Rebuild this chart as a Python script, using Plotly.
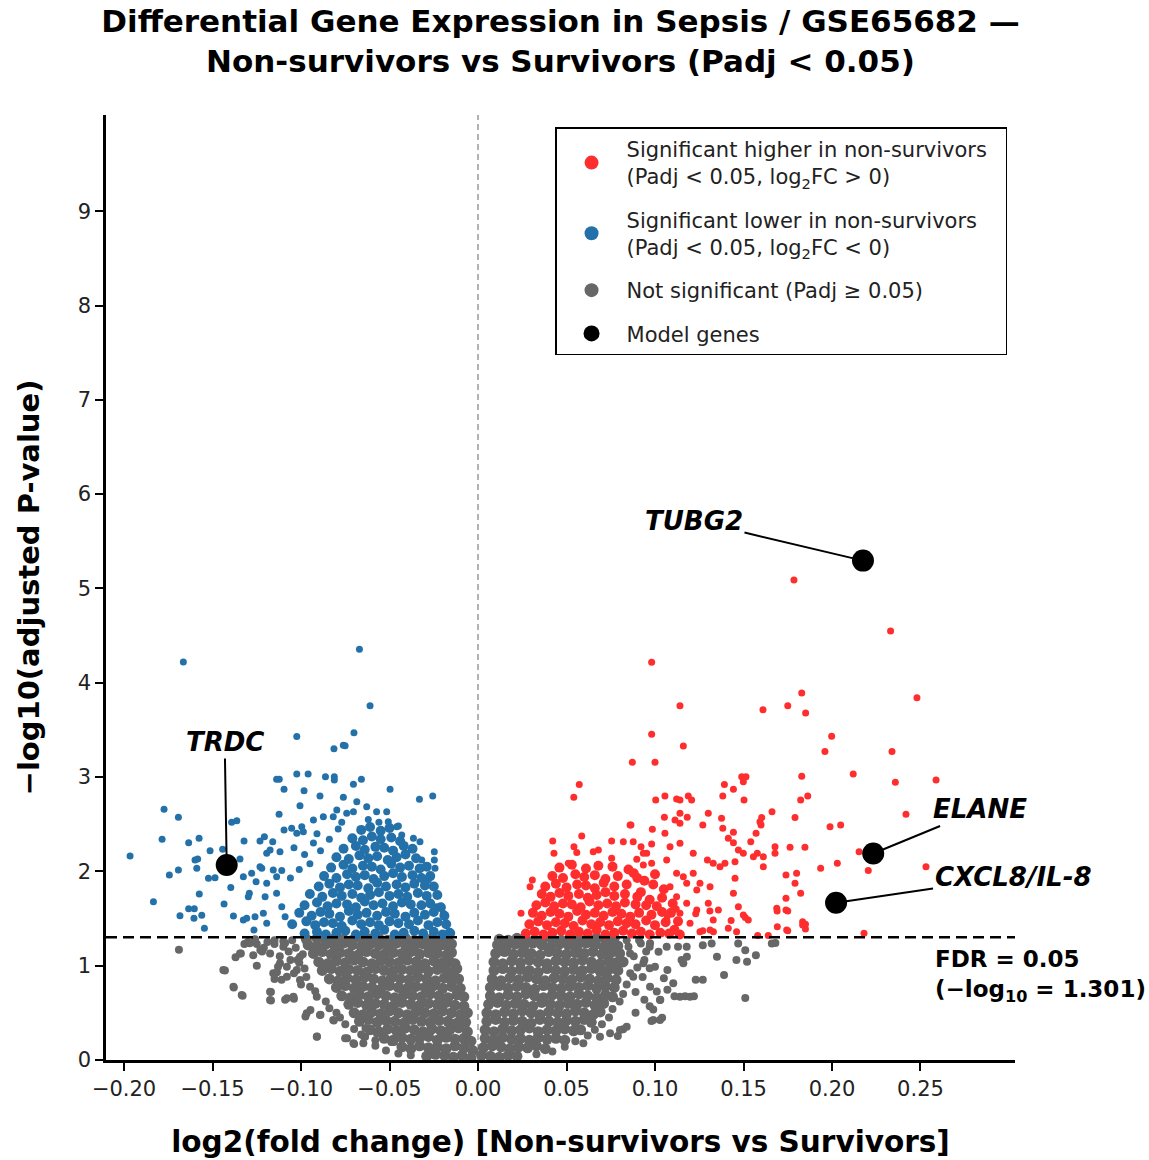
import plotly.graph_objects as go

# ---------------- data ----------------
FDR_NEGLOG10 = 1.301

gene_names = ["TUBG2", "ELANE", "CXCL8/IL-8", "TRDC"]
gene_lfc = [0.2175, 0.2233, 0.2023, -0.1420]
gene_nlp = [5.295, 2.19, 1.668, 2.068]

# significant, higher in non-survivors (red) - sparse points
up_scatter = [
    (0.1785, 5.09), (0.2331, 4.549), (0.0981, 4.217), (0.1141, 3.757), (0.248, 3.842), (0.1829, 3.892),
    (0.175, 3.757), (0.161, 3.715), (0.1851, 3.68), (0.1998, 3.433), (0.196, 3.27), (0.2339, 3.27),
    (0.0981, 3.454), (0.116, 3.33), (0.0872, 3.157), (0.100, 3.157), (0.212, 3.033), (0.1829, 3.009),
    (0.2588, 2.969), (0.2358, 2.945), (0.2418, 2.605), (0.0572, 2.92), (0.0541, 2.786), (0.149, 3.004),
    (0.1514, 3.004), (0.1499, 2.951), (0.1392, 2.92), (0.1443, 2.871), (0.1383, 2.80), (0.1503, 2.757),
    (0.1823, 2.757), (0.1863, 2.80), (0.1004, 2.757), (0.1056, 2.80), (0.1122, 2.768), (0.1141, 2.757),
    (0.1188, 2.80), (0.1207, 2.757), (0.1053, 2.574), (0.1113, 2.545), (0.1141, 2.616), (0.1182, 2.574),
    (0.1301, 2.616), (0.127, 2.492), (0.0864, 2.492), (0.0985, 2.446), (0.0921, 2.262), (0.0953, 2.192),
    (0.0897, 2.128), (0.0934, 2.068), (0.0981, 2.086), (0.1661, 2.633), (0.1603, 2.57), (0.1599, 2.492),
    (0.1791, 2.57), (0.1383, 2.457), (0.1443, 2.415), (0.1414, 2.351), (0.1443, 2.304), (0.1471, 2.227),
    (0.1452, 2.103), (0.1571, 2.404), (0.1541, 2.315), (0.1578, 2.192), (0.1612, 2.156), (0.1612, 2.05),
    (0.1678, 2.262), (0.1678, 2.192), (0.1763, 2.255), (0.1847, 2.255), (0.1989, 2.474), (0.2049, 2.492),
    (0.2153, 2.209), (0.2205, 2.008), (0.203, 2.086), (0.1936, 2.033), (0.2531, 2.05), (0.174, 1.962),
    (0.18, 1.98), (0.1791, 1.874), (0.1823, 1.768), (0.174, 1.715), (0.1688, 1.609), (0.174, 1.591),
    (0.1834, 1.467), (0.1834, 1.432), (0.1691, 1.414), (0.1744, 1.379), (0.2181, 1.344), (0.1452, 1.927),
    (0.1443, 1.768), (0.1471, 1.626), (0.1499, 1.538), (0.1527, 1.485), (0.1414, 1.397), (0.1461, 1.361),
    (0.1254, 1.361), (0.1329, 1.485), (0.1301, 1.661), (0.1358, 1.591), (0.1311, 1.838), (0.1236, 1.803),
    (0.1179, 1.874), (0.1367, 2.05), (0.1395, 2.086), (0.1329, 2.086), (0.1296, 2.121), (0.1499, 2.192),
    (0.1556, 2.156), (0.1593, 2.527), (0.1376, 2.563), (0.1141, 2.51), (0.1056, 2.404), (0.1085, 2.262),
    (0.1141, 2.298), (0.1216, 2.192), (0.1066, 2.121), (0.1122, 1.98), (0.116, 1.944), (0.1216, 1.98),
    (0.1254, 1.874), (0.1085, 1.838), (0.1122, 1.732), (0.1179, 1.661), (0.1236, 1.591), (0.1141, 1.556),
    (0.1066, 1.485), (0.1198, 1.45), (0.1311, 1.379), (0.1103, 1.379), (0.0243, 1.556), (0.0307, 1.909),
    (0.0294, 1.838), (0.0422, 2.322), (0.0429, 2.192), (0.0542, 2.262), (0.0558, 2.199), (0.0586, 2.375),
    (0.0755, 2.322), (0.0821, 2.315), (0.0877, 2.315), (0.0859, 2.492), (0.0651, 2.209), (0.068, 2.227),
    (0.051, 2.086), (0.0454, 2.033), (0.0755, 2.139), (0.0934, 2.192), (0.0981, 2.29),
    (0.158, 1.32), (0.164, 1.32), (0.169, 1.58), (0.175, 1.58), (0.175, 1.37), (0.185, 1.44), (0.185, 1.39),
    (0.143, 1.48), (0.151, 1.51), (0.133, 1.36), (0.127, 1.37), (0.123, 1.55), (0.131, 1.58), (0.112, 1.60),
    (0.107, 1.53),
]

# significant, higher in non-survivors (red) - dense cloud
up_core = [
    (0.027, 1.34), (0.032, 1.36), (0.037, 1.33), (0.042, 1.35), (0.047, 1.37), (0.052, 1.33), (0.057, 1.36),
    (0.062, 1.34), (0.067, 1.38), (0.072, 1.33), (0.077, 1.35), (0.082, 1.37), (0.087, 1.34), (0.092, 1.36),
    (0.097, 1.33), (0.103, 1.35), (0.108, 1.34), (0.114, 1.33), (0.111, 1.38),
    (0.029, 1.44), (0.034, 1.47), (0.039, 1.43), (0.044, 1.46), (0.049, 1.45), (0.054, 1.42), (0.059, 1.48),
    (0.064, 1.44), (0.069, 1.46), (0.074, 1.43), (0.079, 1.47), (0.084, 1.45), (0.089, 1.44), (0.095, 1.48),
    (0.100, 1.43), (0.106, 1.46), (0.113, 1.47),
    (0.031, 1.56), (0.036, 1.53), (0.041, 1.57), (0.046, 1.55), (0.051, 1.52), (0.056, 1.58), (0.061, 1.54),
    (0.066, 1.56), (0.071, 1.53), (0.076, 1.57), (0.081, 1.55), (0.086, 1.52), (0.091, 1.56), (0.098, 1.54),
    (0.104, 1.57), (0.109, 1.56),
    (0.033, 1.64), (0.038, 1.67), (0.043, 1.63), (0.048, 1.66), (0.053, 1.65), (0.058, 1.62), (0.063, 1.68),
    (0.068, 1.64), (0.073, 1.66), (0.078, 1.63), (0.083, 1.67), (0.089, 1.65), (0.095, 1.64), (0.101, 1.63),
    (0.110, 1.66),
    (0.036, 1.76), (0.041, 1.73), (0.046, 1.77), (0.051, 1.74), (0.057, 1.76), (0.062, 1.72), (0.067, 1.75),
    (0.072, 1.78), (0.077, 1.74), (0.083, 1.76), (0.090, 1.73), (0.097, 1.70), (0.104, 1.72),
    (0.038, 1.84), (0.044, 1.87), (0.050, 1.83), (0.056, 1.86), (0.061, 1.85), (0.066, 1.82), (0.071, 1.88),
    (0.077, 1.84), (0.084, 1.86), (0.092, 1.78), (0.099, 1.86), (0.105, 1.81),
    (0.042, 1.95), (0.048, 1.93), (0.055, 1.97), (0.060, 1.94), (0.066, 1.96), (0.072, 1.92), (0.079, 1.95),
    (0.088, 1.98), (0.094, 1.90), (0.090, 1.93), (0.100, 1.97),
    (0.046, 2.04), (0.053, 2.07), (0.061, 2.03), (0.068, 2.06), (0.076, 2.05), (0.085, 2.02),
]

# significant, lower in non-survivors (blue) - sparse points
down_scatter = [
    (-0.1665, 4.22), (-0.0670, 4.355), (-0.0610, 3.757), (-0.0701, 3.471), (-0.1024, 3.43), (-0.0814, 3.30),
    (-0.0751, 3.333), (-0.0761, 3.337), (-0.1138, 2.977), (-0.1123, 2.977), (-0.1024, 3.033), (-0.096, 3.033),
    (-0.0862, 3.004), (-0.0812, 3.004), (-0.0812, 2.969), (-0.0659, 2.977), (-0.0704, 2.924), (-0.1096, 2.871),
    (-0.0983, 2.856), (-0.0893, 2.80), (-0.0761, 2.786), (-0.0497, 2.871), (-0.0331, 2.765), (-0.0256, 2.80),
    (-0.1774, 2.659), (-0.1693, 2.574), (-0.1785, 2.34), (-0.1576, 2.351), (-0.1635, 2.304), (-0.1966, 2.163),
    (-0.1834, 1.679), (-0.1744, 1.962), (-0.1693, 2.015), (-0.1589, 2.033), (-0.1599, 2.12), (-0.1584, 2.13),
    (-0.1514, 2.22), (-0.1523, 1.927), (-0.1486, 1.933), (-0.1392, 2.52), (-0.1363, 2.537), (-0.1322, 2.322),
    (-0.1345, 2.13), (-0.1443, 2.234), (-0.1397, 1.828), (-0.1435, 1.654), (-0.1575, 1.76), (-0.1684, 1.53),
    (-0.1635, 1.604), (-0.1603, 1.604), (-0.1605, 1.503), (-0.1561, 1.534), (-0.1546, 1.397), (-0.1382, 1.527),
    (-0.1326, 1.944), (-0.1279, 1.98), (-0.1254, 1.891), (-0.1292, 1.768), (-0.1298, 1.732), (-0.1326, 1.485),
    (-0.1307, 1.503), (-0.126, 1.52), (-0.1266, 1.379), (-0.1232, 2.322), (-0.1207, 2.368), (-0.1232, 2.05),
    (-0.1222, 2.033), (-0.1194, 2.192), (-0.1175, 2.227), (-0.116, 2.315), (-0.1119, 2.209), (-0.1194, 1.874),
    (-0.1203, 1.732), (-0.1213, 1.556), (-0.1194, 1.45), (-0.1157, 2.015), (-0.1138, 1.944), (-0.1109, 2.008),
    (-0.1138, 1.768), (-0.1109, 1.626), (-0.109, 1.52), (-0.1096, 2.439), (-0.1053, 2.457), (-0.1024, 2.404),
    (-0.0996, 2.474), (-0.0987, 2.421), (-0.1124, 2.605), (-0.1006, 2.697), (-0.093, 2.545), (-0.0874, 2.58),
    (-0.0818, 2.58), (-0.0798, 2.651), (-0.0742, 2.616), (-0.0704, 2.633), (-0.0685, 2.739), (-0.0629, 2.686),
    (-0.0573, 2.633), (-0.0516, 2.633), (-0.0507, 2.527), (-0.0459, 2.474), (-0.0431, 2.386), (-0.0365, 2.351),
    (-0.0328, 2.315), (-0.0247, 2.209), (-0.0247, 2.12), (-0.0243, 2.033), (-0.0318, 2.12), (-0.0281, 1.909),
    (-0.0233, 1.626), (-0.0196, 1.556), (-0.0149, 1.343),
    (-0.104, 2.25), (-0.098, 2.18), (-0.093, 2.30), (-0.089, 2.22), (-0.095, 2.08), (-0.101, 2.02),
    (-0.106, 1.93), (-0.091, 2.40), (-0.084, 2.34), (-0.079, 2.45), (-0.077, 2.52), (-0.062, 2.55),
    (-0.056, 2.52), (-0.045, 2.48),
]

# significant, lower in non-survivors (blue) - dense cloud
down_core = [
    (-0.098, 1.34), (-0.091, 1.36), (-0.086, 1.33), (-0.080, 1.35), (-0.075, 1.37), (-0.069, 1.33), (-0.064, 1.36),
    (-0.058, 1.34), (-0.053, 1.38), (-0.047, 1.33), (-0.042, 1.35), (-0.036, 1.37), (-0.031, 1.34), (-0.025, 1.36),
    (-0.020, 1.33), (-0.016, 1.35),
    (-0.105, 1.44), (-0.097, 1.47), (-0.092, 1.43), (-0.087, 1.46), (-0.082, 1.45), (-0.077, 1.42), (-0.071, 1.48),
    (-0.066, 1.44), (-0.061, 1.46), (-0.056, 1.43), (-0.050, 1.47), (-0.045, 1.45), (-0.039, 1.44), (-0.034, 1.48),
    (-0.028, 1.43), (-0.023, 1.46), (-0.018, 1.44),
    (-0.101, 1.56), (-0.094, 1.53), (-0.089, 1.57), (-0.084, 1.55), (-0.078, 1.52), (-0.073, 1.58), (-0.068, 1.54),
    (-0.063, 1.56), (-0.057, 1.53), (-0.052, 1.57), (-0.047, 1.55), (-0.041, 1.52), (-0.036, 1.56), (-0.030, 1.54),
    (-0.025, 1.57), (-0.019, 1.53),
    (-0.098, 1.64), (-0.091, 1.67), (-0.085, 1.63), (-0.080, 1.66), (-0.074, 1.65), (-0.069, 1.62), (-0.064, 1.68),
    (-0.059, 1.64), (-0.054, 1.66), (-0.048, 1.63), (-0.043, 1.67), (-0.038, 1.65), (-0.032, 1.64), (-0.027, 1.66),
    (-0.021, 1.62),
    (-0.095, 1.76), (-0.088, 1.73), (-0.082, 1.77), (-0.077, 1.74), (-0.071, 1.76), (-0.066, 1.72), (-0.061, 1.75),
    (-0.056, 1.78), (-0.050, 1.74), (-0.045, 1.76), (-0.040, 1.73), (-0.034, 1.77), (-0.029, 1.74), (-0.023, 1.75),
    (-0.090, 1.84), (-0.084, 1.87), (-0.078, 1.83), (-0.073, 1.86), (-0.068, 1.85), (-0.062, 1.82), (-0.057, 1.88),
    (-0.052, 1.84), (-0.046, 1.86), (-0.041, 1.83), (-0.036, 1.87), (-0.030, 1.85), (-0.025, 1.84),
    (-0.087, 1.95), (-0.080, 1.93), (-0.074, 1.97), (-0.069, 1.94), (-0.064, 1.96), (-0.059, 1.92), (-0.053, 1.95),
    (-0.048, 1.98), (-0.043, 1.94), (-0.037, 1.96), (-0.032, 1.93), (-0.027, 1.95),
    (-0.083, 2.04), (-0.076, 2.07), (-0.071, 2.03), (-0.065, 2.06), (-0.060, 2.05), (-0.055, 2.02), (-0.049, 2.08),
    (-0.044, 2.04), (-0.039, 2.06), (-0.033, 2.03), (-0.029, 2.05),
    (-0.080, 2.15), (-0.073, 2.13), (-0.067, 2.17), (-0.062, 2.14), (-0.057, 2.16), (-0.051, 2.12), (-0.046, 2.15),
    (-0.041, 2.18), (-0.035, 2.14),
    (-0.076, 2.24), (-0.069, 2.27), (-0.064, 2.23), (-0.058, 2.26), (-0.053, 2.25), (-0.048, 2.22), (-0.042, 2.27),
    (-0.037, 2.24),
    (-0.071, 2.35), (-0.065, 2.33), (-0.060, 2.37), (-0.055, 2.34), (-0.049, 2.36), (-0.044, 2.32),
    (-0.066, 2.44), (-0.061, 2.47), (-0.055, 2.43), (-0.050, 2.46),
]

# not significant (grey) - sparse points
ns_scatter = [
    (-0.169, 1.17), (-0.143, 0.95), (-0.138, 0.77), (-0.133, 0.68), (-0.137, 1.09), (-0.134, 1.13), (-0.125, 1.00),
    (-0.127, 1.11), (-0.122, 1.15), (-0.117, 0.72), (-0.117, 0.63), (-0.109, 0.64), (-0.104, 0.65), (-0.0975, 0.46),
    (-0.0947, 0.53), (-0.091, 0.25), (-0.089, 0.48), (-0.0815, 0.42), (-0.074, 0.23), (-0.070, 0.17), (-0.0636, 0.34),
    (-0.0645, 0.25), (-0.058, 0.21), (-0.049, 0.19), (-0.0475, 0.19), (-0.115, 0.86), (-0.1136, 0.93), (-0.111, 0.85),
    (-0.108, 0.99), (-0.102, 1.06), (-0.115, 1.23), (-0.125, 1.23), (-0.132, 1.23), (-0.130, 1.25),
    (-0.1175, 1.13), (-0.1119, 1.025), (-0.1157, 0.92), (-0.108, 0.883), (-0.1024, 0.954), (-0.1006, 1.095),
    (-0.110, 1.20), (-0.123, 1.166), (-0.129, 1.237), (-0.1345, 1.13), (-0.1382, 0.777), (-0.1335, 0.689),
    (-0.1439, 0.954), (-0.1175, 0.724), (-0.1175, 0.636), (-0.108, 0.654), (-0.1043, 0.671), (-0.0968, 0.495),
    (-0.0911, 0.247), (-0.0893, 0.477), (-0.0818, 0.424), (-0.0751, 0.23), (-0.0704, 0.177), (-0.0638, 0.247),
    (-0.0648, 0.177), (-0.0572, 0.283), (-0.0488, 0.194), (-0.0949, 0.777), (-0.0911, 0.671), (-0.1006, 0.848),
    (-0.105, 1.27), (-0.110, 1.26), (-0.115, 1.27), (-0.119, 1.25), (-0.103, 1.19), (-0.107, 1.15), (-0.112, 1.10),
    (-0.099, 1.12), (-0.101, 1.03), (-0.106, 1.06), (-0.098, 0.97), (-0.104, 0.92), (-0.097, 0.88), (-0.100, 0.80),
    (-0.092, 0.73), (-0.086, 0.62), (-0.084, 0.55), (-0.080, 0.50), (-0.078, 0.45), (-0.075, 0.38), (-0.070, 0.33),
    (-0.066, 0.27), (-0.058, 0.15), (-0.052, 0.10), (-0.045, 0.07), (-0.038, 0.05), (-0.121, 1.19), (-0.126, 1.28),
    (-0.113, 0.99), (-0.109, 1.24),
    (0.151, 0.657), (0.151, 1.164), (0.146, 1.059), (0.152, 1.042), (0.157, 1.112), (0.139, 0.902), (0.127, 0.85),
    (0.123, 0.85), (0.117, 0.675), (0.122, 0.675), (0.111, 0.675), (0.107, 0.745), (0.101, 0.727), (0.103, 0.64),
    (0.099, 0.535), (0.104, 0.448), (0.098, 0.413), (0.082, 0.325), (0.079, 0.255), (0.089, 0.50), (0.094, 0.64),
    (0.097, 0.57), (0.115, 1.06), (0.118, 1.094), (0.113, 1.2), (0.127, 1.217), (0.132, 1.234), (0.135, 1.094),
    (0.166, 1.234), (0.168, 1.241), (0.147, 1.234), (0.107, 0.955), (0.105, 0.867), (0.100, 0.99), (0.094, 1.06),
    (0.097, 0.972), (0.102, 1.147), (0.092, 1.234), (0.097, 1.2),
    (0.0859, 1.13), (0.0934, 1.025), (0.0877, 0.883), (0.0972, 0.777), (0.1028, 0.636), (0.1103, 0.813),
    (0.1141, 0.671), (0.1198, 0.671), (0.099, 0.424), (0.1028, 0.424), (0.0802, 0.318), (0.084, 0.353),
    (0.0689, 0.247), (0.0746, 0.283), (0.0595, 0.177), (0.116, 1.025), (0.1179, 1.20), (0.1066, 1.20),
    (0.0972, 1.237), (0.084, 1.27), (0.0746, 1.166),
    (0.085, 1.20), (0.088, 1.10), (0.090, 0.98), (0.086, 0.92), (0.084, 0.80), (0.082, 0.70), (0.080, 0.62),
    (0.076, 0.54), (0.074, 0.45), (0.070, 0.38), (0.066, 0.32), (0.062, 0.26), (0.055, 0.20), (0.049, 0.14),
    (0.042, 0.09), (0.033, 0.06), (0.091, 1.27), (0.095, 1.15), (0.093, 0.88), (0.089, 0.72),
]

# not significant (grey) - dense V-shaped cloud
ns_core = [
    (-0.029, 0.04), (-0.024, 0.06), (-0.019, 0.05), (-0.014, 0.03), (-0.009, 0.05), (-0.004, 0.02),
    (-0.043, 0.14), (-0.038, 0.12), (-0.033, 0.15), (-0.028, 0.13), (-0.023, 0.14), (-0.018, 0.12), (-0.013, 0.15),
    (-0.008, 0.13), (-0.003, 0.10),
    (-0.053, 0.23), (-0.048, 0.21), (-0.043, 0.24), (-0.038, 0.22), (-0.033, 0.23), (-0.028, 0.25), (-0.023, 0.21),
    (-0.018, 0.24), (-0.013, 0.22), (-0.008, 0.23), (-0.004, 0.20),
    (-0.061, 0.32), (-0.056, 0.30), (-0.051, 0.33), (-0.046, 0.31), (-0.041, 0.34), (-0.036, 0.32), (-0.031, 0.30),
    (-0.026, 0.33), (-0.021, 0.31), (-0.016, 0.32), (-0.011, 0.34), (-0.006, 0.30),
    (-0.067, 0.41), (-0.062, 0.43), (-0.057, 0.40), (-0.052, 0.42), (-0.047, 0.41), (-0.042, 0.39), (-0.037, 0.43),
    (-0.032, 0.41), (-0.027, 0.40), (-0.022, 0.42), (-0.017, 0.41), (-0.012, 0.39), (-0.007, 0.40),
    (-0.070, 0.50), (-0.065, 0.48), (-0.060, 0.51), (-0.055, 0.49), (-0.050, 0.52), (-0.045, 0.50), (-0.040, 0.48),
    (-0.035, 0.51), (-0.030, 0.50), (-0.025, 0.49), (-0.020, 0.52), (-0.015, 0.50), (-0.010, 0.48), (-0.006, 0.50),
    (-0.073, 0.59), (-0.068, 0.61), (-0.063, 0.58), (-0.058, 0.60), (-0.053, 0.59), (-0.048, 0.57), (-0.043, 0.61),
    (-0.038, 0.59), (-0.033, 0.58), (-0.028, 0.60), (-0.023, 0.59), (-0.018, 0.61), (-0.013, 0.58), (-0.008, 0.57),
    (-0.077, 0.68), (-0.072, 0.66), (-0.067, 0.69), (-0.062, 0.67), (-0.057, 0.70), (-0.052, 0.68), (-0.047, 0.66),
    (-0.042, 0.69), (-0.037, 0.68), (-0.032, 0.67), (-0.027, 0.70), (-0.022, 0.68), (-0.017, 0.66), (-0.012, 0.69),
    (-0.008, 0.67),
    (-0.080, 0.77), (-0.075, 0.79), (-0.070, 0.76), (-0.065, 0.78), (-0.060, 0.77), (-0.055, 0.75), (-0.050, 0.79),
    (-0.045, 0.77), (-0.040, 0.76), (-0.035, 0.78), (-0.030, 0.77), (-0.025, 0.79), (-0.020, 0.76), (-0.015, 0.78),
    (-0.010, 0.76),
    (-0.084, 0.86), (-0.079, 0.84), (-0.074, 0.87), (-0.069, 0.85), (-0.064, 0.88), (-0.059, 0.86), (-0.054, 0.84),
    (-0.049, 0.87), (-0.044, 0.86), (-0.039, 0.85), (-0.034, 0.88), (-0.029, 0.86), (-0.024, 0.84), (-0.019, 0.87),
    (-0.015, 0.85), (-0.011, 0.86),
    (-0.088, 0.95), (-0.083, 0.97), (-0.078, 0.94), (-0.073, 0.96), (-0.068, 0.95), (-0.063, 0.93), (-0.058, 0.97),
    (-0.053, 0.95), (-0.048, 0.94), (-0.043, 0.96), (-0.038, 0.95), (-0.033, 0.97), (-0.028, 0.94), (-0.023, 0.96),
    (-0.018, 0.95), (-0.014, 0.93), (-0.012, 0.97),
    (-0.090, 1.04), (-0.085, 1.02), (-0.080, 1.05), (-0.075, 1.03), (-0.070, 1.06), (-0.065, 1.04), (-0.060, 1.02),
    (-0.055, 1.05), (-0.050, 1.04), (-0.045, 1.03), (-0.040, 1.06), (-0.035, 1.04), (-0.030, 1.02), (-0.025, 1.05),
    (-0.020, 1.03), (-0.016, 1.04), (-0.013, 1.02),
    (-0.093, 1.13), (-0.088, 1.15), (-0.083, 1.12), (-0.078, 1.14), (-0.073, 1.13), (-0.068, 1.11), (-0.063, 1.15),
    (-0.058, 1.13), (-0.053, 1.12), (-0.048, 1.14), (-0.043, 1.13), (-0.038, 1.15), (-0.033, 1.12), (-0.028, 1.14),
    (-0.023, 1.13), (-0.018, 1.11), (-0.015, 1.14),
    (-0.096, 1.22), (-0.091, 1.20), (-0.086, 1.23), (-0.081, 1.21), (-0.076, 1.24), (-0.071, 1.22), (-0.066, 1.20),
    (-0.061, 1.23), (-0.056, 1.22), (-0.051, 1.21), (-0.046, 1.24), (-0.041, 1.22), (-0.036, 1.20), (-0.031, 1.23),
    (-0.026, 1.21), (-0.021, 1.22), (-0.017, 1.20), (-0.015, 1.23),
    (-0.097, 1.28), (-0.091, 1.29), (-0.086, 1.27), (-0.081, 1.29), (-0.076, 1.28), (-0.071, 1.27), (-0.066, 1.29),
    (-0.061, 1.28), (-0.056, 1.29), (-0.051, 1.27), (-0.046, 1.28), (-0.041, 1.29), (-0.036, 1.27), (-0.031, 1.28),
    (-0.026, 1.29), (-0.021, 1.28), (-0.017, 1.27),
    (0.002, 0.05), (0.007, 0.04), (0.012, 0.03), (0.017, 0.05), (0.022, 0.04),
    (0.003, 0.13), (0.008, 0.15), (0.013, 0.14), (0.018, 0.12), (0.023, 0.14), (0.028, 0.13), (0.033, 0.15),
    (0.038, 0.12),
    (0.004, 0.23), (0.009, 0.21), (0.014, 0.24), (0.019, 0.22), (0.024, 0.23), (0.029, 0.21), (0.034, 0.24),
    (0.039, 0.22), (0.044, 0.23), (0.049, 0.21),
    (0.004, 0.32), (0.009, 0.30), (0.014, 0.33), (0.019, 0.31), (0.024, 0.32), (0.029, 0.34), (0.034, 0.30),
    (0.039, 0.32), (0.044, 0.31), (0.049, 0.33), (0.054, 0.31), (0.058, 0.32),
    (0.005, 0.41), (0.010, 0.43), (0.015, 0.40), (0.020, 0.42), (0.025, 0.41), (0.030, 0.39), (0.035, 0.43),
    (0.040, 0.41), (0.045, 0.40), (0.050, 0.42), (0.055, 0.41), (0.060, 0.43), (0.064, 0.40),
    (0.005, 0.50), (0.010, 0.48), (0.015, 0.51), (0.020, 0.49), (0.025, 0.52), (0.030, 0.50), (0.035, 0.48),
    (0.040, 0.51), (0.045, 0.50), (0.050, 0.49), (0.055, 0.52), (0.060, 0.50), (0.065, 0.48), (0.069, 0.51),
    (0.006, 0.59), (0.011, 0.61), (0.016, 0.58), (0.021, 0.60), (0.026, 0.59), (0.031, 0.57), (0.036, 0.61),
    (0.041, 0.59), (0.046, 0.58), (0.051, 0.60), (0.056, 0.59), (0.061, 0.61), (0.066, 0.58), (0.071, 0.60),
    (0.007, 0.68), (0.012, 0.66), (0.017, 0.69), (0.022, 0.67), (0.027, 0.70), (0.032, 0.68), (0.037, 0.66),
    (0.042, 0.69), (0.047, 0.68), (0.052, 0.67), (0.057, 0.70), (0.062, 0.68), (0.067, 0.66), (0.072, 0.69),
    (0.076, 0.67),
    (0.007, 0.77), (0.012, 0.79), (0.017, 0.76), (0.022, 0.78), (0.027, 0.77), (0.032, 0.75), (0.037, 0.79),
    (0.042, 0.77), (0.047, 0.76), (0.052, 0.78), (0.057, 0.77), (0.062, 0.79), (0.067, 0.76), (0.072, 0.78),
    (0.077, 0.77),
    (0.008, 0.86), (0.013, 0.84), (0.018, 0.87), (0.023, 0.85), (0.028, 0.88), (0.033, 0.86), (0.038, 0.84),
    (0.043, 0.87), (0.048, 0.86), (0.053, 0.85), (0.058, 0.88), (0.063, 0.86), (0.068, 0.84), (0.073, 0.87),
    (0.078, 0.85),
    (0.009, 0.95), (0.014, 0.97), (0.019, 0.94), (0.024, 0.96), (0.029, 0.95), (0.034, 0.93), (0.039, 0.97),
    (0.044, 0.95), (0.049, 0.94), (0.054, 0.96), (0.059, 0.95), (0.064, 0.97), (0.069, 0.94), (0.074, 0.96),
    (0.079, 0.95),
    (0.009, 1.04), (0.014, 1.02), (0.019, 1.05), (0.024, 1.03), (0.029, 1.06), (0.034, 1.04), (0.039, 1.02),
    (0.044, 1.05), (0.049, 1.04), (0.054, 1.03), (0.059, 1.06), (0.064, 1.04), (0.069, 1.02), (0.074, 1.05),
    (0.078, 1.03), (0.082, 1.04),
    (0.010, 1.13), (0.015, 1.15), (0.020, 1.12), (0.025, 1.14), (0.030, 1.13), (0.035, 1.11), (0.040, 1.15),
    (0.045, 1.13), (0.050, 1.12), (0.055, 1.14), (0.060, 1.13), (0.065, 1.15), (0.070, 1.12), (0.075, 1.14),
    (0.080, 1.13),
    (0.011, 1.22), (0.016, 1.20), (0.021, 1.23), (0.026, 1.21), (0.031, 1.24), (0.036, 1.22), (0.041, 1.20),
    (0.046, 1.23), (0.051, 1.22), (0.056, 1.21), (0.061, 1.24), (0.066, 1.22), (0.071, 1.20), (0.076, 1.23),
    (0.079, 1.21),
    (0.012, 1.28), (0.017, 1.27), (0.022, 1.29), (0.027, 1.28), (0.032, 1.27), (0.037, 1.29), (0.042, 1.28),
    (0.047, 1.27), (0.052, 1.29), (0.057, 1.28), (0.062, 1.27), (0.067, 1.29), (0.072, 1.28), (0.077, 1.29),
]

x_ticks = [-0.20, -0.15, -0.10, -0.05, 0.00, 0.05, 0.10, 0.15, 0.20, 0.25]
y_ticks = [0, 1, 2, 3, 4, 5, 6, 7, 8, 9]

legend_up = "Significant higher in non-survivors&nbsp;&nbsp;<br>(Padj &lt; 0.05, log<sub>2</sub>FC &gt; 0)"
legend_down = "Significant lower in non-survivors<br>(Padj &lt; 0.05, log<sub>2</sub>FC &lt; 0)"
legend_ns = "Not significant (Padj ≥ 0.05)"
legend_model = "Model genes"

# ---------------- styling ----------------
RED = "#ff2e2e"
BLUE = "#2471a9"
GREY = "#676767"
FONT = "DejaVu Sans"
DOT = 7

label_offsets = {  # pixel offsets of gene labels (layout only)
    "TUBG2": (-169, -40),
    "ELANE": (107, -44),
    "CXCL8/IL-8": (177, -26),
    "TRDC": (-2, -123),
}


def xs(pts):
    return [p[0] for p in pts]


def ys(pts):
    return [p[1] for p in pts]


fig = go.Figure()
for pts, color, size in [(ns_core, GREY, 11), (ns_scatter, GREY, DOT + 1),
                         (down_core, BLUE, 10), (down_scatter, BLUE, DOT),
                         (up_core, RED, 10), (up_scatter, RED, DOT)]:
    fig.add_trace(go.Scatter(x=xs(pts), y=ys(pts), mode="markers",
                             marker=dict(color=color, size=size, line=dict(width=0)),
                             showlegend=False, hoverinfo="x+y"))
fig.add_trace(go.Scatter(x=gene_lfc, y=gene_nlp, mode="markers", text=gene_names,
                         marker=dict(color="black", size=22, line=dict(width=0)), showlegend=False))

# legend entries
for i, (name, color, size) in enumerate([(legend_up, RED, 14), (legend_down, BLUE, 14), (legend_ns, GREY, 14),
                                         (legend_model, "black", 16)]):
    fig.add_trace(go.Scatter(x=[None], y=[None], mode="markers", name=name, legendgroup=f"g{i}",
                             marker=dict(color=color, size=size, line=dict(width=0))))

annotations = []
for name, gx, gy in zip(gene_names, gene_lfc, gene_nlp):
    dx, dy = label_offsets[name]
    annotations.append(dict(
        x=gx, y=gy, xref="x", yref="y", text=name, showarrow=True, arrowhead=0,
        arrowwidth=2, arrowcolor="black", ax=dx, ay=dy, standoff=0,
        font=dict(family=FONT, size=26, color="black", weight="bold", style="italic"),
    ))

annotations.append(dict(
    x=0.257, y=0.89, xref="x", yref="y", xanchor="left", yanchor="middle", align="left",
    text=f"FDR = 0.05<br>(−log<sub>10</sub> = {FDR_NEGLOG10:.3f})", showarrow=False,
    font=dict(family=FONT, size=23, color="black", weight="bold"),
))

fig.update_layout(
    width=1149, height=1160,
    margin=dict(l=106, r=134, t=115, b=100),
    plot_bgcolor="white", paper_bgcolor="white",
    font=dict(family=FONT, color="black"),
    title=dict(
        text="<b>Differential Gene Expression in Sepsis / GSE65682 —<br>Non-survivors vs Survivors (Padj &lt; 0.05)</b>",
        x=0.5, xref="paper", xanchor="center", y=0.9725, yref="container", yanchor="top",
        font=dict(family=FONT, size=31, color="black"),
    ),
    legend=dict(
        x=0.494, y=0.987, xanchor="left", yanchor="top",
        bgcolor="white", bordercolor="black", borderwidth=1.5,
        font=dict(family=FONT, size=21, color="#222"), itemwidth=60,
        tracegroupgap=13,
    ),
    annotations=annotations,
    shapes=[
        dict(type="line", xref="x", yref="paper", x0=0, x1=0, y0=0, y1=1,
             line=dict(color="#999999", width=1.5, dash="6px,4px"), layer="below"),
        dict(type="line", xref="paper", yref="y", x0=0, x1=1, y0=FDR_NEGLOG10, y1=FDR_NEGLOG10,
             line=dict(color="black", width=2.5, dash="11px,6px"), layer="above"),
    ],
)

fig.update_xaxes(
    range=[-0.2102, 0.3034], tickvals=x_ticks, tickformat=".2f",
    showline=True, linewidth=2.5, linecolor="black", ticks="outside", ticklen=8, tickwidth=2,
    tickcolor="black", tickfont=dict(family=FONT, size=21, color="#222"),
    showgrid=False, zeroline=False, automargin=False,
    title=dict(text="<b>log2(fold change) [Non-survivors vs Survivors]</b>",
               font=dict(family=FONT, size=29.5, color="black"), standoff=32),
)
fig.update_yaxes(
    range=[0, 10.02], tickvals=y_ticks,
    showline=True, linewidth=2.5, linecolor="black", ticks="outside", ticklen=8, tickwidth=2,
    tickcolor="black", tickfont=dict(family=FONT, size=21, color="#222"),
    showgrid=False, zeroline=False, automargin=False,
    title=dict(text="<b>−log10(adjusted P-value)</b>",
               font=dict(family=FONT, size=29, color="black"), standoff=30),
)

fig.write_html("out.html")
